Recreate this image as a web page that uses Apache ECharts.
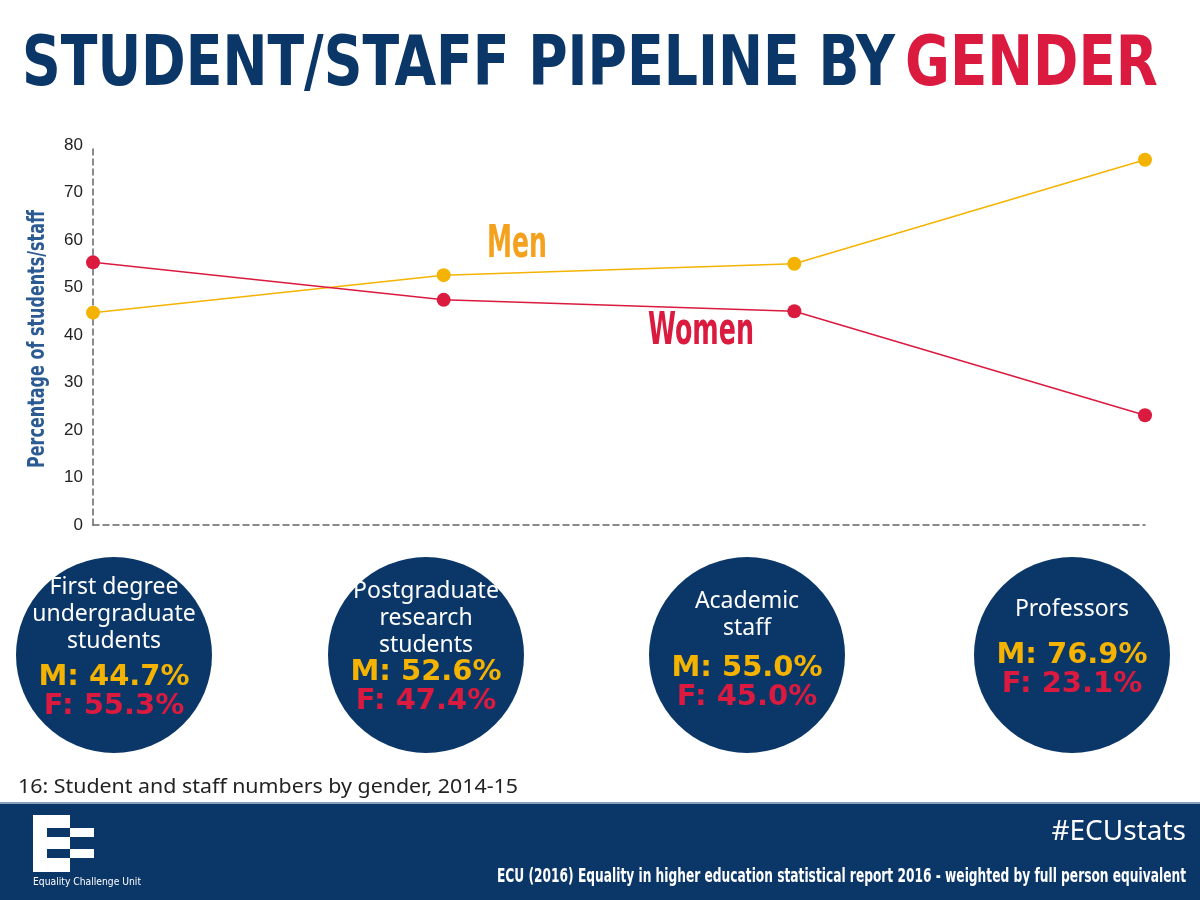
<!DOCTYPE html>
<html><head><meta charset="utf-8">
<script src="https://cdn.jsdelivr.net/npm/echarts@6/dist/echarts.min.js"></script>
<style>html,body{margin:0;padding:0;background:#fff}#c{width:1200px;height:900px}</style>
</head><body><div id="c"></div>
<script>
const categories = ['First degree undergraduate students','Postgraduate research students','Academic staff','Professors'];
const circleLabels = ['First degree\nundergraduate\nstudents','Postgraduate\nresearch\nstudents','Academic\nstaff','Professors'];
const menValues = [44.7, 52.6, 55.0, 76.9];
const womenValues = [55.3, 47.4, 45.0, 23.1];
const yTicks = [0, 10, 20, 30, 40, 50, 60, 70, 80];

const NAVY = '#0b3768', RED = '#da1a3e', GOLD = '#f5b301', ORANGE = '#f4a11e';
const COND = '"Liberation Sans Narrow", "DejaVu Sans Condensed"';
const chart = echarts.init(document.getElementById('c'), null, {renderer: 'canvas'});

const mctx = document.createElement('canvas').getContext('2d');
function fit(text, font, w) { mctx.font = font; return w / mctx.measureText(text).width; }

const circleCx = [114, 426, 747, 1072];
const labelCy = [614, 618, 615, 609];
const valueCy = [692, 687, 683, 670];
const graphics = [];
circleCx.forEach((cx, i) => {
  graphics.push({type: 'circle', shape: {cx: cx, cy: 655, r: 98}, style: {fill: NAVY}, z: 1});
  graphics.push({type: 'text', x: cx, y: labelCy[i], z: 2, style: {
    text: circleLabels[i], fill: '#fff', font: '23px "Noto Sans"', lineHeight: 27,
    align: 'center', verticalAlign: 'middle'}});
  graphics.push({type: 'text', x: cx, y: valueCy[i], z: 2, style: {
    text: '{m|M: ' + menValues[i].toFixed(1) + '%}\n{f|F: ' + womenValues[i].toFixed(1) + '%}',
    align: 'center', verticalAlign: 'middle',
    rich: {m: {fill: GOLD, font: 'bold 29px "DejaVu Sans"', lineHeight: 29, align: 'center'},
           f: {fill: RED, font: 'bold 29px "DejaVu Sans"', lineHeight: 29, align: 'center'}}}});
});
// footer band
graphics.push({type: 'rect', shape: {x: 0, y: 803, width: 1200, height: 97}, style: {fill: NAVY}, z: 1});
graphics.push({type: 'rect', shape: {x: 0, y: 802, width: 1200, height: 2}, style: {fill: '#8aa0b8'}, z: 1});
// logo
graphics.push({type: 'rect', shape: {x: 33, y: 815, width: 37, height: 57}, style: {fill: '#fff'}, z: 2});
graphics.push({type: 'rect', shape: {x: 47, y: 828, width: 23, height: 9}, style: {fill: NAVY}, z: 3});
graphics.push({type: 'rect', shape: {x: 47, y: 849, width: 23, height: 9}, style: {fill: NAVY}, z: 3});
graphics.push({type: 'rect', shape: {x: 70, y: 828, width: 24, height: 9}, style: {fill: '#fff'}, z: 3});
graphics.push({type: 'rect', shape: {x: 70, y: 849, width: 24, height: 9}, style: {fill: '#fff'}, z: 3});
const logoFont = '11px ' + COND, logoText = 'Equality Challenge Unit';
graphics.push({type: 'text', x: 33, y: 882, z: 3, scaleX: fit(logoText, logoFont, 108), style: {text: logoText, fill: '#fff',
  font: logoFont, verticalAlign: 'middle'}});
graphics.push({type: 'text', x: 1186, y: 832, z: 3, style: {text: '#ECUstats', fill: '#fff',
  font: '28px "Noto Sans"', align: 'right', verticalAlign: 'middle'}});
const srcText = 'ECU (2016) Equality in higher education statistical report 2016 - weighted by full person equivalent';
const srcFont = 'bold 20px ' + COND;
graphics.push({type: 'text', x: 1186, y: 877, z: 3, scaleX: fit(srcText, srcFont, 689), style: {
  text: srcText, fill: '#fff', font: srcFont, align: 'right', verticalAlign: 'middle'}});
// footnote
const fnText = '16: Student and staff numbers by gender, 2014-15', fnFont = '20px "Noto Sans"';
graphics.push({type: 'text', x: 18, y: 787, z: 3, scaleX: fit(fnText, fnFont, 500), style: {text: fnText,
  fill: '#222', font: fnFont, verticalAlign: 'middle'}});
// title
const tFont = 'bold 69px ' + COND, tA = 'STUDENT/STAFF PIPELINE BY', tB = 'GENDER';
graphics.push({type: 'text', x: 22, y: 67, z: 3, scaleX: fit(tA, tFont, 873), style: {
  text: tA, fill: NAVY, font: tFont, verticalAlign: 'middle'}});
graphics.push({type: 'text', x: 905, y: 67, z: 3, scaleX: fit(tB, tFont, 253), style: {
  text: tB, fill: RED, font: tFont, verticalAlign: 'middle'}});
// y axis name
const yFont = 'bold 23px ' + COND, yName = 'Percentage of students/staff';
graphics.push({type: 'text', x: 38, y: 339, z: 3, rotation: Math.PI / 2, scaleX: fit(yName, yFont, 258), style: {
  text: yName, fill: '#2b5b92', font: yFont, align: 'center', verticalAlign: 'middle'}});
// series labels
const sFont = 'bold 45px ' + COND;
graphics.push({type: 'text', x: 487, y: 245, z: 3, scaleX: fit('Men', sFont, 60), style: {text: 'Men', fill: ORANGE,
  font: sFont, verticalAlign: 'middle'}});
graphics.push({type: 'text', x: 648, y: 332, z: 3, scaleX: fit('Women', sFont, 106), style: {text: 'Women', fill: RED,
  font: sFont, verticalAlign: 'middle'}});

chart.setOption({
  animation: false,
  backgroundColor: '#fff',
  grid: {left: 93, right: 55, top: 145, bottom: 375},
  xAxis: {type: 'category', data: categories, boundaryGap: false,
    axisLine: {lineStyle: {color: '#666', type: [6, 4], width: 1.5}},
    axisTick: {show: false}, axisLabel: {show: false}, splitLine: {show: false}},
  yAxis: {type: 'value', min: yTicks[0], max: yTicks[yTicks.length - 1], interval: 10,
    axisLine: {show: true, lineStyle: {color: '#666', type: [6, 4], width: 1.5}},
    axisTick: {show: false}, splitLine: {show: false},
    axisLabel: {color: '#222', fontSize: 17, fontFamily: '"Liberation Sans", Arial', margin: 10}},
  series: [
    {name: 'Men', type: 'line', data: menValues, symbol: 'circle', symbolSize: 14,
     lineStyle: {color: GOLD, width: 1.5}, itemStyle: {color: GOLD}, z: 3},
    {name: 'Women', type: 'line', data: womenValues, symbol: 'circle', symbolSize: 14,
     lineStyle: {color: RED, width: 1.5}, itemStyle: {color: RED}, z: 3}
  ],
  graphic: graphics
});
</script></body></html>
